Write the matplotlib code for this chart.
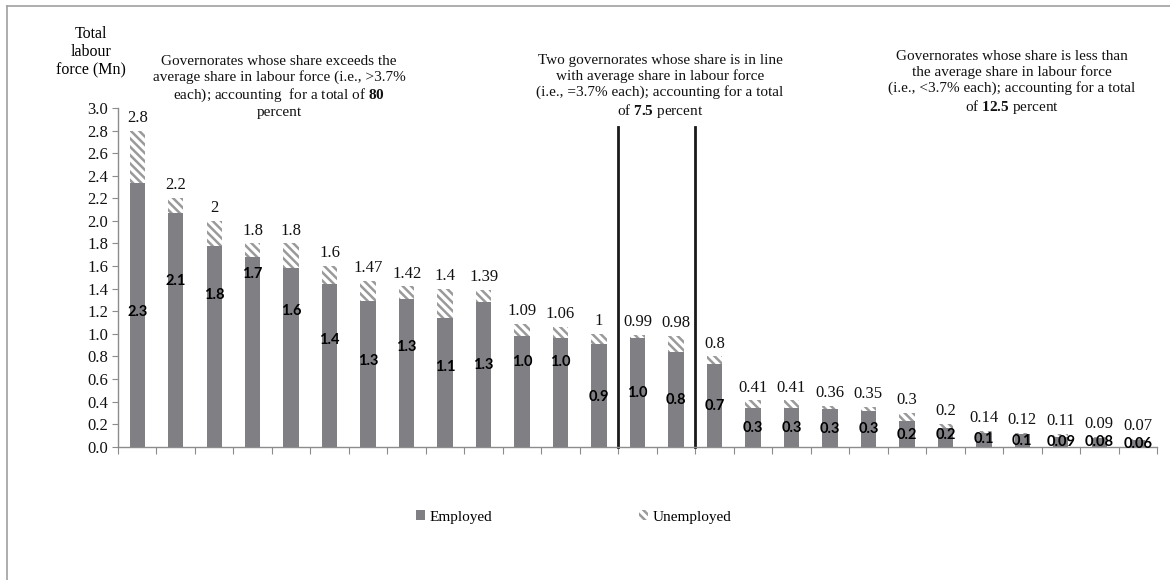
import numpy as np
import matplotlib.pyplot as plt
from matplotlib.lines import Line2D
from matplotlib.patches import Patch

# labour force by governorate (millions), sorted by total
total = [2.8, 2.2, 2, 1.8, 1.8, 1.6, 1.47, 1.42, 1.4, 1.39, 1.09, 1.06, 1,
         0.99, 0.98,
         0.8, 0.41, 0.41, 0.36, 0.35, 0.3, 0.2, 0.14, 0.12, 0.11, 0.09, 0.07]
employed = [2.34, 2.07, 1.78, 1.68, 1.58, 1.44, 1.29, 1.31, 1.14, 1.28, 0.98, 0.96, 0.91,
            0.96, 0.84,
            0.73, 0.34, 0.34, 0.33, 0.32, 0.23, 0.17, 0.12, 0.11, 0.09, 0.08, 0.06]
group_sizes = [13, 2, 12]

# heights where the employed labels sit inside the bars
emp_label_y = [1.19, 1.47, 1.34, 1.53, 1.2, 0.945, 0.76, 0.886, 0.71, 0.72, 0.75, 0.75, 0.44,
               0.48, 0.41, 0.36, 0.17, 0.17, 0.16, 0.16, 0.10, 0.10, 0.065, 0.053, 0.044,
               0.044, 0.024]

plt.rcParams['font.family'] = ['Liberation Serif', 'DejaVu Serif']
plt.rcParams['mathtext.fontset'] = 'custom'
plt.rcParams['mathtext.rm'] = 'Liberation Serif'
plt.rcParams['mathtext.bf'] = 'Liberation Serif:bold'
plt.rcParams['hatch.linewidth'] = 1.8

total = np.array(total)
employed = np.array(employed)
unemployed = total - employed
x = np.arange(len(total))

fig = plt.figure(figsize=(11.7, 5.8), dpi=100)
ax = fig.add_axes([118 / 1170, 1 - 446.7 / 580, (1157 - 118) / 1170, (446.7 - 108) / 580])

emp_color = '#7f7f84'
hatch_color = '#9a9a9a'
ax.bar(x, employed, width=0.4, color=emp_color, linewidth=0)
ax.bar(x, unemployed, width=0.4, bottom=employed, color='white',
       edgecolor=hatch_color, hatch='\\\\\\\\', linewidth=0)

for i in range(len(x)):
    ax.annotate(f'{total[i]:g}', (x[i], total[i]), xytext=(0, 3.5),
                textcoords='offset points', ha='center', va='bottom',
                fontsize=12, color='#111111')
    lab = f'{employed[i]:.1f}' if employed[i] >= 0.095 else f'{employed[i]:.2f}'
    ax.text(x[i], emp_label_y[i], lab, ha='center', va='center',
            fontsize=10.5, fontweight='bold', family='Lato', color='black')

# group dividers
edges = np.cumsum(group_sizes)[:-1] - 0.5
for e in edges:
    ax.plot([e, e], [0, 2.83], color='#1a1a1a', lw=2, clip_on=False)

ax.set_xlim(-0.5, len(x) - 0.5)
ax.set_ylim(0, 3.0)
ax.set_yticks(np.arange(0, 3.01, 0.2))
ax.set_yticklabels([f'{v:.1f}' for v in np.arange(0, 3.01, 0.2)])
ax.set_xticks(np.arange(-0.5, len(x)))
ax.set_xticklabels([])
for s in ['top', 'right']:
    ax.spines[s].set_visible(False)
for s in ['left', 'bottom']:
    ax.spines[s].set_color('#8c8c8c')
    ax.spines[s].set_linewidth(1.0)
ax.tick_params(axis='y', length=4, color='#8c8c8c', labelsize=12, pad=3, labelcolor='#111111')
ax.tick_params(axis='x', length=5, color='#8c8c8c')

fig.text(91 / 1170, 1 - 52 / 580, 'Total\nlabour\nforce (Mn)', ha='center', va='center',
         fontsize=11.5, linespacing=1.2)

notes = [
    (279, 87, 'Governorates whose share exceeds the\naverage share in labour force (i.e., >3.7%\n'
              'each); accounting  for a total of $\\mathbf{80}$\npercent'),
    (660, 87, 'Two governorates whose share is in line\nwith average share in labour force\n'
              '(i.e., =3.7% each); accounting for a total\nof $\\mathbf{7.5}$ percent'),
    (1012, 83, 'Governorates whose share is less than\nthe average share in labour force\n'
               '(i.e., <3.7% each); accounting for a total\nof $\\mathbf{12.5}$ percent'),
]
for px, py, txt in notes:
    fig.text(px / 1170, 1 - py / 580, txt, ha='center', va='center', multialignment='center',
             fontsize=11, linespacing=1.2, color='#111111')

handles = [Patch(facecolor=emp_color, linewidth=0),
           Patch(facecolor='white', edgecolor=hatch_color, hatch='\\\\\\\\', linewidth=0)]
fig.legend(handles, ['Employed', 'Unemployed'], loc='center',
           bbox_to_anchor=(574 / 1170, 1 - 517 / 580), ncol=2, frameon=False,
           handlelength=0.6, handleheight=0.6, handletextpad=0.3, columnspacing=9.6,
           fontsize=11)

# chart area border
border = '#a0a0a0'
fig.add_artist(Line2D([7 / 1170, 7 / 1170], [0, 1 - 6 / 580], transform=fig.transFigure,
                      color=border, lw=1.2))
fig.add_artist(Line2D([7 / 1170, 1], [1 - 6 / 580, 1 - 6 / 580], transform=fig.transFigure,
                      color=border, lw=1.2))

fig.savefig('out.png', dpi=100, facecolor='white')
